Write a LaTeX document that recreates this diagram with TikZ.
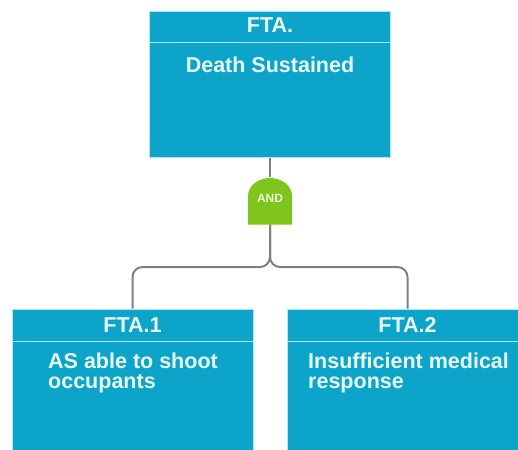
\documentclass[tikz,border=0pt]{standalone}
\usepackage{fontspec}
\setmainfont{Liberation Sans}
\definecolor{boxfill}{RGB}{12,164,201}
\definecolor{boxedge}{RGB}{175,232,243}
\definecolor{boxtext}{RGB}{232,250,253}
\definecolor{gatefill}{RGB}{128,196,30}
\definecolor{gatetext}{RGB}{236,248,216}
\definecolor{wirecol}{RGB}{128,128,128}
\begin{document}
\begin{tikzpicture}[x=1pt,y=-1pt,
  event/.style={rectangle, draw=boxedge, line width=1pt, fill=boxfill,
    minimum width=241pt, inner sep=0pt},
  divider/.style={draw=boxedge, line width=1pt},
  head/.style={text=boxtext, font=\bfseries\fontsize{21.5}{20}\selectfont, inner sep=0pt},
  body/.style={text=boxtext, font=\bfseries\fontsize{21.5}{20}\selectfont, inner sep=0pt, align=left},
  wire/.style={draw=wirecol, line width=2pt},
  gatebox/.style={rectangle, minimum width=44pt, minimum height=47pt, inner sep=0pt}]
\clip (0,0) rectangle (518,449);
\fill[white] (0,0) rectangle (518,449);

% event boxes
\node[event, minimum height=145pt] (top) at (270,84.5) {};
\node[event, minimum height=151pt] (fta1) at (132.5,384.5) {};
\node[event, minimum height=151pt] (fta2) at (407.5,384.5) {};

% header dividers
\draw[divider] (top.west |- 0,43) -- (top.east |- 0,43);
\draw[divider] (fta1.west |- 0,341) -- (fta1.east |- 0,341);
\draw[divider] (fta2.west |- 0,341) -- (fta2.east |- 0,341);

% texts (multi-line nodes are anchored on their last baseline)
\node[head, anchor=base] (topid) at (270,33) {FTA.};
\node[body, anchor=base] (toptxt) at (270,73) {Death Sustained};
\node[head, anchor=base] (id1) at (132.5,332) {FTA.1};
\node[body, anchor=base west] (txt1) at (48,388) {AS able to shoot\\occupants};
\node[head, anchor=base] (id2) at (407.5,332) {FTA.2};
\node[body, anchor=base west] (txt2) at (308,388) {Insufficient medical\\response};

% AND gate
\node[gatebox] (gate) at (270,201) {};
\fill[gatefill] (gate.south west) -- (248,196)
  arc[start angle=180, end angle=0, x radius=22pt, y radius=18pt]
  -- (gate.south east) -- cycle;
\node[text=gatetext, font=\bfseries\fontsize{12}{12}\selectfont, inner sep=0pt] (gatelabel) at (270,198.5) {AND};

% connectors
\coordinate (fork) at (270,267);
\draw[wire] (top.south) -- (gate.north);
\draw[wire, rounded corners=10pt] (gate.south) -- (fork) -| (fta1.north);
\draw[wire, rounded corners=10pt] (gate.south) -- (fork) -| (fta2.north);
\end{tikzpicture}
\end{document}
